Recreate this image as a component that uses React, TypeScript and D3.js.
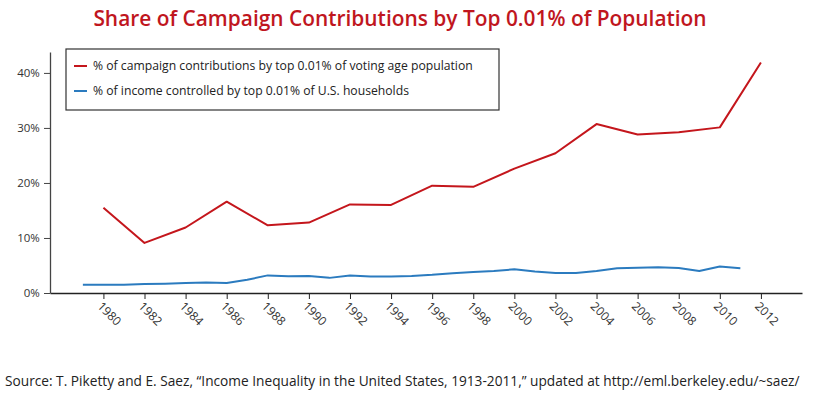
import React, { useRef, useEffect } from 'react';
import * as d3 from 'd3';

const contribYears = [1980, 1982, 1984, 1986, 1988, 1990, 1992, 1994, 1996, 1998, 2000, 2002, 2004, 2006, 2008, 2010, 2012];
const contribShare = [15.5, 9.1, 11.9, 16.6, 12.3, 12.8, 16.1, 16.0, 19.5, 19.3, 22.6, 25.4, 30.7, 28.8, 29.2, 30.1, 41.9];

const incomeYears = d3.range(1979, 2012);
const incomeShare = [
  1.52, 1.52, 1.52, 1.64, 1.7, 1.83, 1.9, 1.83, 2.4, 3.2, 3.05, 3.1, 2.75, 3.2, 3.0, 3.0, 3.1,
  3.3, 3.6, 3.8, 4.0, 4.3, 3.9, 3.65, 3.65, 4.0, 4.5, 4.6, 4.7, 4.55, 4.0, 4.8, 4.5,
];

const tickYears = d3.range(1980, 2013, 2);
const yTicks = [0, 10, 20, 30, 40];

const legendLabels = [
  '% of campaign contributions by top 0.01% of voting age population',
  '% of income controlled by top 0.01% of U.S. households',
];

const RED = '#c4161c';
const BLUE = '#2b7bbf';
const FONT = "'Open Sans', sans-serif";

function App() {
  const svgRef = useRef<SVGSVGElement>(null);

  useEffect(() => {
    const svg = d3.select(svgRef.current);
    svg.selectAll('*').remove();

    const margin = { left: 50, right: 18, top: 52, bottom: 100 };
    const width = 820;
    const height = 393;

    const x = d3.scaleLinear().domain([1977.4, 2014]).range([margin.left, width - margin.right]);
    const y = d3.scaleLinear().domain([0, 43.8]).range([height - margin.bottom, margin.top]);

    // title
    svg
      .append('text')
      .attr('x', 400)
      .attr('y', 26)
      .attr('text-anchor', 'middle')
      .attr('font-family', FONT)
      .attr('font-weight', 600)
      .attr('font-size', 20.9)
      .attr('fill', '#c0161e')
      .text('Share of Campaign Contributions by Top 0.01% of Population');

    // x axis
    const xAxis = d3
      .axisBottom(x)
      .tickValues(tickYears)
      .tickSize(6)
      .tickSizeOuter(0)
      .tickFormat((d) => String(d));
    const xg = svg.append('g').attr('transform', `translate(0,${y(0)})`).call(xAxis);
    xg.select('.domain').attr('stroke', '#222').attr('stroke-width', 1.3);
    xg.selectAll('line').attr('stroke', '#222');
    xg.selectAll('text')
      .attr('font-family', FONT)
      .attr('font-size', 12)
      .attr('fill', '#333')
      .attr('text-anchor', 'start')
      .attr('transform', 'rotate(45)')
      .attr('dx', '0.4em')
      .attr('dy', '0.5em');

    // y axis
    const yAxis = d3
      .axisLeft(y)
      .tickValues(yTicks)
      .tickSize(6)
      .tickSizeOuter(0)
      .tickFormat((d) => `${d}%`);
    const yg = svg.append('g').attr('transform', `translate(${margin.left},0)`).call(yAxis);
    yg.select('.domain').attr('stroke', '#444').attr('stroke-width', 1.3);
    yg.selectAll('line').attr('stroke', '#444');
    yg.selectAll('text')
      .attr('font-family', FONT)
      .attr('font-size', 11.5)
      .attr('fill', '#333')
      .attr('dx', '-0.1em');

    const line = d3
      .line<[number, number]>()
      .x((d) => x(d[0]))
      .y((d) => y(d[1]));

    svg
      .append('path')
      .datum(incomeYears.map((yr, i) => [yr, incomeShare[i]] as [number, number]))
      .attr('fill', 'none')
      .attr('stroke', BLUE)
      .attr('stroke-width', 2)
      .attr('stroke-linejoin', 'round')
      .attr('d', line);

    svg
      .append('path')
      .datum(contribYears.map((yr, i) => [yr, contribShare[i]] as [number, number]))
      .attr('fill', 'none')
      .attr('stroke', RED)
      .attr('stroke-width', 2)
      .attr('stroke-linejoin', 'round')
      .attr('d', line);

    // legend
    const legend = svg.append('g').attr('transform', 'translate(66,49)');
    legend
      .append('rect')
      .attr('width', 433)
      .attr('height', 61)
      .attr('fill', 'white')
      .attr('stroke', '#333')
      .attr('stroke-width', 1.2);
    [RED, BLUE].forEach((c, i) => {
      const ly = 17 + i * 25;
      legend
        .append('line')
        .attr('x1', 8)
        .attr('x2', 21)
        .attr('y1', ly)
        .attr('y2', ly)
        .attr('stroke', c)
        .attr('stroke-width', 2);
      legend
        .append('text')
        .attr('x', 27)
        .attr('y', ly)
        .attr('dy', '0.35em')
        .attr('font-family', FONT)
        .attr('font-size', 12.2)
        .attr('fill', '#222')
        .text(legendLabels[i]);
    });

    // source
    svg
      .append('text')
      .attr('x', 5)
      .attr('y', 386)
      .attr('font-family', FONT)
      .attr('font-size', 13.7)
      .attr('fill', '#222')
      .text('Source: T. Piketty and E. Saez, \u201cIncome Inequality in the United States, 1913-2011,\u201d updated at http://eml.berkeley.edu/~saez/');
  }, []);

  return (
    <svg
      ref={svgRef}
      width={820}
      height={393}
      style={{ position: 'absolute', left: 0, top: 0, background: 'white' }}
    />
  );
}

export default App;
